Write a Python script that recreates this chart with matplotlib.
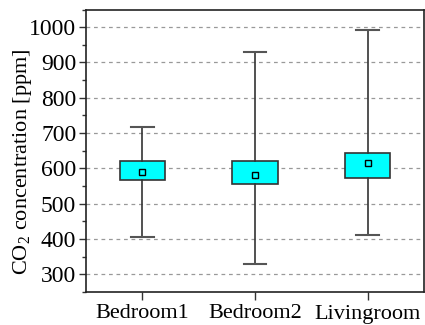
import matplotlib
matplotlib.use("Agg")
import matplotlib.pyplot as plt
from matplotlib.ticker import MultipleLocator

plt.rcParams['font.family'] = ['Liberation Serif', 'DejaVu Serif']
plt.rcParams['mathtext.fontset'] = 'custom'
plt.rcParams['mathtext.rm'] = 'Liberation Serif'

categories = ["Bedroom1", "Bedroom2", "Livingroom"]
whisker_low = [407, 329, 411]
q1 = [568, 556, 574]
q3 = [620, 622, 644]
whisker_high = [716, 930, 993]
means = [591, 580, 614]
medians = [594, 589, 609]

stats = []
for i, name in enumerate(categories):
    stats.append(dict(label=name, whislo=whisker_low[i], q1=q1[i], med=medians[i],
                      q3=q3[i], whishi=whisker_high[i], mean=means[i], fliers=[]))

fig = plt.figure(figsize=(4.25, 3.25), dpi=100)
ax = fig.add_axes([86/425, 1-292/325, 338/425, (292-9.5)/325])

ax.bxp(stats, positions=[1, 2, 3], widths=0.4, patch_artist=True, showmeans=True,
       showfliers=False,
       boxprops=dict(facecolor='#00ffff', edgecolor='#333333', linewidth=1.2),
       whiskerprops=dict(color='#333333', linewidth=1.2),
       capprops=dict(color='#555555', linewidth=1.5),
       medianprops=dict(linewidth=0),
       meanprops=dict(marker='s', markersize=4, markerfacecolor='none',
                      markeredgecolor='black', markeredgewidth=1.0),
       capwidths=0.2)

ax.set_xlim(0.5, 3.5)
ax.set_ylim(250, 1050)
ax.yaxis.set_major_locator(MultipleLocator(100))
ax.yaxis.set_minor_locator(MultipleLocator(50))
ax.set_yticks(range(300, 1001, 100))
ax.grid(axis='y', which='major', linestyle=(0, (3, 3)), color='#999999', linewidth=0.9)
ax.set_axisbelow(True)
ax.tick_params(axis='both', which='major', direction='out', length=5, width=1, labelsize=17, color='#333333')
ax.tick_params(axis='y', which='minor', direction='out', length=3, width=1, color='#333333')
ax.tick_params(axis='y', pad=2)
ax.tick_params(axis='x', length=6, pad=3, labelsize=16)
ax.set_xticks([1, 2, 3])
ax.set_xticklabels(categories)
ax.set_ylabel("CO$_2$ concentration [ppm]", fontsize=16)
ax.yaxis.set_label_coords(-0.155, 0.46)
for s in ax.spines.values():
    s.set_linewidth(1.2)
    s.set_color('#222222')

fig.savefig("out.png", dpi=100)
